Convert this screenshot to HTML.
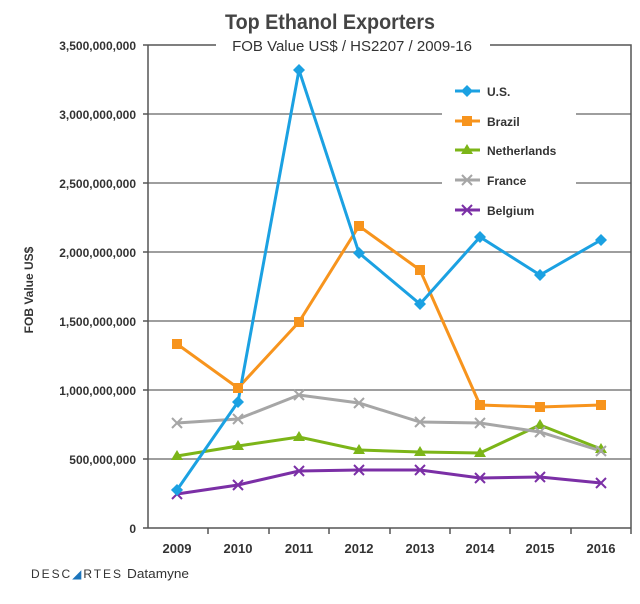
<!DOCTYPE html><html><head><style>body{margin:0;background:#fff}svg{display:block;font-family:"Liberation Sans",sans-serif}</style></head><body>
<svg width="640" height="604" viewBox="0 0 640 604">
<g stroke="#7f7f7f" stroke-width="1.5">
<line x1="148" y1="114" x2="631" y2="114"/><line x1="148" y1="183" x2="631" y2="183"/><line x1="148" y1="252" x2="631" y2="252"/><line x1="148" y1="321" x2="631" y2="321"/><line x1="148" y1="390" x2="631" y2="390"/><line x1="148" y1="459" x2="631" y2="459"/>
</g>
<rect x="442" y="74" width="134" height="150" fill="#fff"/>
<g stroke="#555" stroke-width="1.5" fill="none">
<polyline points="148,45 631,45 631,528"/>
<line x1="148" y1="45" x2="148" y2="528"/><line x1="143" y1="528" x2="631" y2="528"/>
<line x1="143" y1="45" x2="148" y2="45"/><line x1="143" y1="114" x2="148" y2="114"/><line x1="143" y1="183" x2="148" y2="183"/><line x1="143" y1="252" x2="148" y2="252"/><line x1="143" y1="321" x2="148" y2="321"/><line x1="143" y1="390" x2="148" y2="390"/><line x1="143" y1="459" x2="148" y2="459"/>
<line x1="208" y1="528" x2="208" y2="534"/><line x1="269" y1="528" x2="269" y2="534"/><line x1="329" y1="528" x2="329" y2="534"/><line x1="390" y1="528" x2="390" y2="534"/><line x1="450" y1="528" x2="450" y2="534"/><line x1="510" y1="528" x2="510" y2="534"/><line x1="571" y1="528" x2="571" y2="534"/><line x1="631" y1="528" x2="631" y2="534"/>
</g>
<rect x="216" y="36" width="274" height="18" fill="#fff"/>
<text x="330" y="29" text-anchor="middle" font-size="21" font-weight="bold" fill="#444" textLength="210" lengthAdjust="spacingAndGlyphs">Top Ethanol Exporters</text>
<text x="352" y="51" text-anchor="middle" font-size="15" fill="#333">FOB Value US$ / HS2207 / 2009-16</text>
<g font-size="12" font-weight="bold" fill="#333" text-anchor="end">
<text x="136" y="50">3,500,000,000</text><text x="136" y="119">3,000,000,000</text><text x="136" y="188">2,500,000,000</text><text x="136" y="257">2,000,000,000</text><text x="136" y="326">1,500,000,000</text><text x="136" y="395">1,000,000,000</text><text x="136" y="464">500,000,000</text><text x="136" y="533">0</text>
</g>
<g font-size="13" font-weight="bold" fill="#333" text-anchor="middle">
<text x="177" y="553">2009</text><text x="238" y="553">2010</text><text x="299" y="553">2011</text><text x="359" y="553">2012</text><text x="420" y="553">2013</text><text x="480" y="553">2014</text><text x="540" y="553">2015</text><text x="601" y="553">2016</text>
</g>
<text transform="translate(33,290) rotate(-90)" text-anchor="middle" font-size="12" font-weight="bold" fill="#333">FOB Value US$</text>
<g fill="none" stroke-width="3">
<polyline stroke="#f7941d" points="177,344 238,388 299,322 359,226 420,270 480,405 540,407 601,405"/>
<polyline stroke="#7cb518" points="177,456 238,446 299,437 359,450 420,452 480,453 540,425 601,449"/>
<polyline stroke="#a6a6a6" points="177,423 238,419 299,395 359,403 420,422 480,423 540,432 601,451"/>
<polyline stroke="#7b2fa6" points="177,494 238,485 299,471 359,470 420,470 480,478 540,477 601,483"/>
<polyline stroke="#1ba1e2" points="177,490 238,402 299,70 359,253 420,304 480,237 540,275 601,240"/>
</g>
<g fill="#f7941d"><rect x="172" y="339" width="10" height="10"/><rect x="233" y="383" width="10" height="10"/><rect x="294" y="317" width="10" height="10"/><rect x="354" y="221" width="10" height="10"/><rect x="415" y="265" width="10" height="10"/><rect x="475" y="400" width="10" height="10"/><rect x="535" y="402" width="10" height="10"/><rect x="596" y="400" width="10" height="10"/><rect x="462" y="116" width="10" height="10"/></g>
<g fill="#7cb518"><path d="M177,450l6,10h-12z"/><path d="M238,440l6,10h-12z"/><path d="M299,431l6,10h-12z"/><path d="M359,444l6,10h-12z"/><path d="M420,446l6,10h-12z"/><path d="M480,447l6,10h-12z"/><path d="M540,419l6,10h-12z"/><path d="M601,443l6,10h-12z"/><path d="M467,144l6,10h-12z"/></g>
<g stroke="#a6a6a6" stroke-width="2"><path d="M172,418l10,10m0-10l-10,10"/><path d="M233,414l10,10m0-10l-10,10"/><path d="M294,390l10,10m0-10l-10,10"/><path d="M354,398l10,10m0-10l-10,10"/><path d="M415,417l10,10m0-10l-10,10"/><path d="M475,418l10,10m0-10l-10,10"/><path d="M535,427l10,10m0-10l-10,10"/><path d="M596,446l10,10m0-10l-10,10"/><path d="M462,175l10,10m0-10l-10,10"/></g>
<g stroke="#7b2fa6" stroke-width="2"><path d="M172,489l10,10m0-10l-10,10"/><path d="M233,480l10,10m0-10l-10,10"/><path d="M294,466l10,10m0-10l-10,10"/><path d="M354,465l10,10m0-10l-10,10"/><path d="M415,465l10,10m0-10l-10,10"/><path d="M475,473l10,10m0-10l-10,10"/><path d="M535,472l10,10m0-10l-10,10"/><path d="M596,478l10,10m0-10l-10,10"/><path d="M462,205l10,10m0-10l-10,10"/></g>
<g fill="#1ba1e2"><path d="M177,484l6,6-6,6-6-6z"/><path d="M238,396l6,6-6,6-6-6z"/><path d="M299,64l6,6-6,6-6-6z"/><path d="M359,247l6,6-6,6-6-6z"/><path d="M420,298l6,6-6,6-6-6z"/><path d="M480,231l6,6-6,6-6-6z"/><path d="M540,269l6,6-6,6-6-6z"/><path d="M601,234l6,6-6,6-6-6z"/><path d="M467,85l6,6-6,6-6-6z"/></g>
<g stroke-width="3"><line x1="455" y1="91" x2="480" y2="91" stroke="#1ba1e2"/><line x1="455" y1="121" x2="480" y2="121" stroke="#f7941d"/><line x1="455" y1="150" x2="480" y2="150" stroke="#7cb518"/><line x1="455" y1="180" x2="480" y2="180" stroke="#a6a6a6"/><line x1="455" y1="210" x2="480" y2="210" stroke="#7b2fa6"/></g>
<g font-size="12" font-weight="bold" fill="#333"><text x="487" y="96">U.S.</text><text x="487" y="126">Brazil</text><text x="487" y="155">Netherlands</text><text x="487" y="185">France</text><text x="487" y="215">Belgium</text></g>
<text x="31" y="578" font-size="12" fill="#333" textLength="90" lengthAdjust="spacing">DESC<tspan fill="#1b75bc">◢</tspan>RTES</text>
<text x="127" y="578" font-size="13" fill="#333" textLength="62" lengthAdjust="spacingAndGlyphs">Datamyne</text>
</svg></body></html>
